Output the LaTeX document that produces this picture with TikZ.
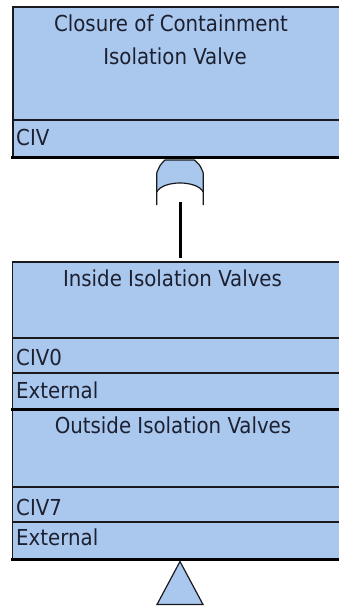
\documentclass[tikz,border=0pt]{standalone}
\usepackage{fontspec}
\setmainfont{DejaVu Sans Condensed}
\definecolor{panelblue}{RGB}{170,200,238}
\definecolor{ink}{RGB}{28,32,48}
\definecolor{edge}{RGB}{25,25,30}
\begin{document}
\begin{tikzpicture}[x=1pt,y=-1pt,
  txt/.style={text=ink,font=\fontsize{22}{22}\selectfont,inner sep=0pt},
  title/.style={txt,anchor=base},
  field/.style={txt,anchor=base west},
  panel/.style={fill=panelblue,draw=none,inner sep=0pt,anchor=north west},
  rule/.style={draw=edge,line width=1.3pt},
  heavy/.style={draw=black,line width=3pt},
  symbol/.style={draw=edge,line width=1.2pt,line join=miter},
  link/.style={draw=black,line width=3pt}]
\clip (0,0) rectangle (339,607);
\fill[white] (0,0) rectangle (339,607);

% top event panel
\node[panel,minimum width=340pt,minimum height=150pt] (civpanel) at (12.5,7) {};
\draw[rule,line width=2pt] (350,7) -- (12.5,7) -- (12.5,157);
\draw[rule] (12.5,120) -- (350,120);
\draw[heavy] (11,157) -- (350,157);
\node[title] (civtitlea) at (171,31.5) {Closure of Containment};
\node[title] (civtitleb) at (175,65) {Isolation Valve};
\node[field] (civname) at (16,145) {CIV};

% OR gate under the top event
\coordinate (gatetop) at (180,160);
\fill[panelblue] (165,160) .. controls (160,165) .. (156.7,173) -- (156.7,192)
  .. controls (163,180) and (197,180) .. (203.3,192) -- (203.3,173)
  .. controls (200,165) .. (194.3,160) -- cycle;
\draw[symbol] (156.7,205) -- (156.7,173) .. controls (160,165) .. (165,160)
  -- (194.3,160) .. controls (200,165) .. (203.3,173) -- (203.3,205);
\draw[symbol] (156.7,192) .. controls (163,180) and (197,180) .. (203.3,192);
\coordinate (gateout) at (180,202);

% inside valves panel
\node[panel,minimum width=340pt,minimum height=147pt] (inside) at (12.5,262) {};
\draw[rule] (350,262) -- (12.5,262) -- (12.5,409);
\draw[rule] (12.5,338) -- (350,338);
\draw[rule] (12.5,373) -- (350,373);
\node[title] (insidetitle) at (172.5,286) {Inside Isolation Valves};
\node[field] (insidename) at (16,365) {CIV0};
\node[field] (insidetype) at (16,398) {External};

% outside valves panel
\node[panel,minimum width=340pt,minimum height=150pt] (outside) at (12.5,409) {};
\draw[rule] (12.5,409) -- (12.5,559);
\draw[rule] (12.5,487) -- (350,487);
\draw[rule] (12.5,522) -- (350,522);
\draw[heavy] (11,409) -- (350,409);
\draw[heavy] (11,559) -- (350,559);
\node[title] (outsidetitle) at (173,433) {Outside Isolation Valves};
\node[field] (outsidename) at (16,515) {CIV7};
\node[field] (outsidetype) at (16,545) {External};

% gate input link
\draw[link] (gateout) -- ([yshift=4pt]inside.north -| gateout);

% transfer triangle below
\coordinate (apex) at (180,561.5);
\filldraw[fill=panelblue,symbol] (apex) -- (203,604.5) -- (157,604.5) -- cycle;
\end{tikzpicture}
\end{document}
